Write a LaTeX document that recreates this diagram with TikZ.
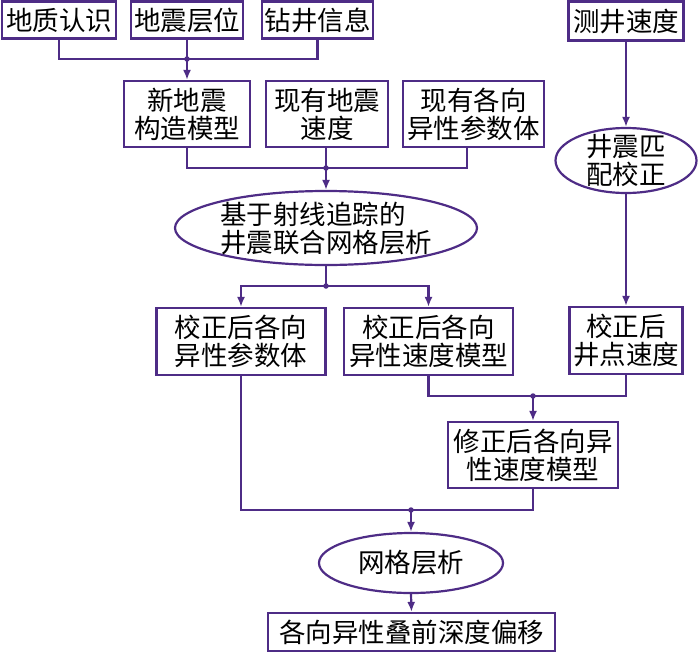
\documentclass[tikz,border=0pt]{standalone}
\usepackage{fontspec}
\setmainfont{Noto Sans CJK SC}
\usetikzlibrary{shapes.geometric,arrows.meta}
\definecolor{lc}{RGB}{78,44,134}
\newcommand\dfont{\fontsize{26.5}{28}\selectfont}
\begin{document}
\begin{tikzpicture}[x=1pt,y=-1pt,
  box/.style={draw=lc,line width=2.2pt,rectangle,inner sep=0pt,align=center,font=\dfont},
  ell/.style={draw=lc,line width=2.2pt,ellipse,inner sep=0pt},
  etext/.style={inner sep=0pt,font=\dfont},
  conn/.style={draw=lc,line width=2.2pt},
  arr/.style={conn,-{Latex[length=10pt,width=8pt]}},
  jdot/.style={circle,fill=lc,inner sep=0pt,minimum size=5.5pt}]
\useasboundingbox (0,0) rectangle (700,653);
% top row
\node[box,minimum width=114pt,minimum height=37pt] (a1) at (59,20) {地质认识};
\node[box,minimum width=112pt,minimum height=37pt] (a2) at (187,20) {地震层位};
\node[box,minimum width=111pt,minimum height=37pt] (a3) at (317.5,20) {钻井信息};
\node[box,minimum width=115pt,minimum height=39pt] (w1) at (626,21) {测井速度};
% second row
\node[box,minimum width=126pt,minimum height=66pt] (b1) at (187,114) {新地震\\构造模型};
\node[box,minimum width=122pt,minimum height=66pt] (b2) at (327,114) {现有地震\\速度};
\node[box,minimum width=141pt,minimum height=66pt] (b3) at (473.5,114) {现有各向\\异性参数体};
% ellipses
\node[ell,minimum width=302pt,minimum height=74pt] (e1) at (326,228) {};
\node[etext,align=left] at (e1.center) {基于射线追踪的\\井震联合网格层析};
\node[ell,minimum width=141pt,minimum height=65pt] (e2) at (626,160.5) {};
\node[etext,align=center] at (e2.center) {井震匹\\配校正};
% third row
\node[box,minimum width=169pt,minimum height=67pt] (c1) at (241,341.5) {校正后各向\\异性参数体};
\node[box,minimum width=169pt,minimum height=67pt] (c2) at (428.5,341.5) {校正后各向\\异性速度模型};
\node[box,minimum width=113pt,minimum height=67pt] (c3) at (626,340.5) {校正后\\井点速度};
% fourth
\node[box,minimum width=170pt,minimum height=66pt] (d) at (533,455) {修正后各向异\\性速度模型};
\node[ell,minimum width=184pt,minimum height=60pt] (e3) at (411,563) {};
\node[etext] at (e3.center) {网格层析};
\node[box,minimum width=287pt,minimum height=38pt] (f) at (411.5,632) {各向异性叠前深度偏移};
% joins
\coordinate (j1) at (187,59);
\coordinate (j2) at (326,168);
\coordinate (j3) at (326,286);
\coordinate (j4) at (533,396);
\coordinate (j5) at (411,510);
% connectors
\draw[conn] (a1.south) |- (j1);
\draw[conn] (a3.south) |- (j1);
\draw[conn] (a2.south) -- (j1);
\draw[arr] (j1) -- (b1.north);
\draw[conn] (b1.south) |- (j2);
\draw[conn] ([xshift=-6.5pt]b3.south) |- (j2);
\draw[conn] (b2.south -| j2) -- (j2);
\draw[arr] (j2) -- (e1.north);
\draw[conn] (e1.south) -- (j3);
\draw[arr] (j3) -| (c1.north);
\draw[arr] (j3) -| (c2.north);
\draw[arr] (w1.south) -- (e2.north);
\draw[arr] (e2.south) -- (c3.north);
\draw[conn] (c2.south) |- (j4);
\draw[conn] (c3.south) |- (j4);
\draw[arr] (j4) -- (d.north);
\draw[conn] (c1.south) |- (j5);
\draw[conn] (d.south) |- (j5);
\draw[arr] (j5) -- (e3.north);
\draw[arr] (e3.south) -- (f.north);
\foreach \j in {j1,j2,j3,j4,j5} \node[jdot] at (\j) {};
\end{tikzpicture}
\end{document}
